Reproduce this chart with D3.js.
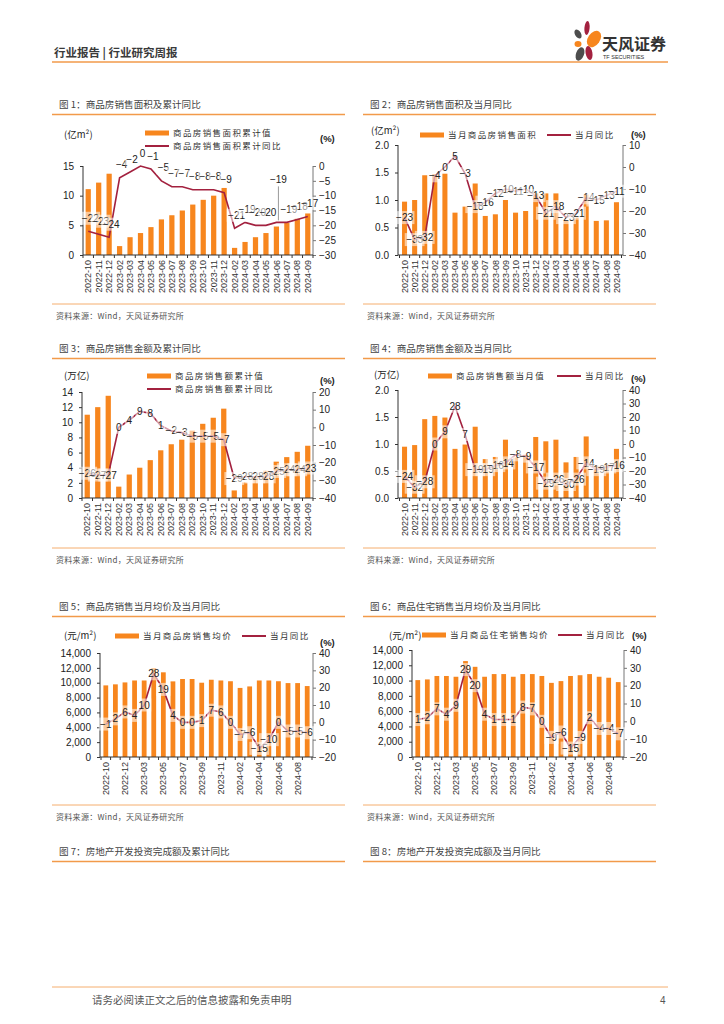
<!DOCTYPE html>
<html>
<head>
<meta charset="utf-8">
<script src="https://cdnjs.cloudflare.com/ajax/libs/d3/7.8.5/d3.min.js"></script>
<style>
body { margin: 0; background: #fff; }
svg { display: block; }
</style>
</head>
<body>
<div id="page"></div>
<script>
// categories (Jan+Feb reported together)
var cats = ["2022-10","2022-11","2022-12","2023-02","2023-03","2023-04","2023-05","2023-06","2023-07","2023-08","2023-09","2023-10","2023-11","2023-12","2024-02","2024-03","2024-04","2024-05","2024-06","2024-07","2024-08","2024-09"];

// fig 1: cumulative area (亿m²) and cumulative yoy (%)
var areaCum = [11.1, 12.2, 13.7, 1.5, 3.0, 3.7, 4.7, 6.0, 6.7, 7.5, 8.5, 9.3, 10.0, 11.3, 1.2, 2.2, 3.0, 3.7, 4.8, 5.4, 6.1, 7.0];
var areaCumYoy = [-22, -23, -24, -4, -2, 0, -1, -5, -7, -7, -8, -8, -8, -9, -21, -19, -20, -20, -19, -19, -18, -17];

// fig 2: monthly area and monthly yoy
var areaMon = [0.97, 1.00, 1.45, 1.47, 1.48, 0.77, 0.88, 1.30, 0.71, 0.74, 1.00, 0.77, 0.80, 1.12, 1.12, 1.12, 0.62, 0.68, 1.10, 0.62, 0.63, 0.96];
var areaMonYoy = [-23, -33, -32, -4, 0, 5, -3, -18, -16, -12, -10, -11, -10, -13, -21, -18, -23, -21, -14, -15, -13, -11];

// fig 3: cumulative sales (万亿) and cumulative yoy
var salesCum = [11.0, 12.0, 13.5, 1.5, 3.1, 4.0, 5.0, 6.3, 7.1, 7.7, 8.9, 9.8, 10.6, 11.8, 1.0, 2.1, 2.8, 3.6, 4.8, 5.4, 6.1, 6.9];
var salesCumYoy = [-26, -27, -27, 0, 4, 9, 8, 1, -2, -3, -5, -5, -5, -7, -29, -28, -28, -28, -25, -24, -24, -23];

// fig 4: monthly sales and monthly yoy
var salesMon = [0.95, 0.98, 1.46, 1.52, 1.49, 0.91, 0.99, 1.32, 0.72, 0.76, 1.08, 0.75, 0.80, 1.13, 1.05, 1.08, 0.66, 0.76, 1.14, 0.60, 0.62, 0.91];
var salesMonYoy = [-24, -32, -28, 0, 9, 28, 7, -19, -19, -16, -14, -8, -9, -17, -29, -26, -30, -26, -14, -19, -17, -16];

// fig 5: monthly average price (元/m²) and yoy
var priceAll = [9640, 9780, 10040, 10300, 10300, 11970, 11400, 10180, 10500, 10500, 10000, 10400, 10300, 10200, 9300, 9500, 10300, 10300, 10200, 9950, 9950, 9550];
var priceAllYoy = [-1, 2, 6, 4, 10, 28, 19, 4, 0, 0, 1, 7, 6, 0, -7, -6, -15, -10, 0, -5, -5, -6];

// fig 6: monthly residential average price and yoy
var priceRes = [10060, 10150, 10600, 10600, 10500, 12550, 11800, 10500, 10850, 10850, 10500, 10850, 10850, 10600, 9700, 9930, 10600, 10700, 10850, 10500, 10370, 9800];
var priceResYoy = [1, 2, 7, 4, 9, 29, 20, 4, 1, 1, 1, 8, 7, 0, -9, -6, -15, -9, 2, -4, -4, -7];

var titles = ["图 1：商品房销售面积及累计同比", "图 2：商品房销售面积及当月同比",
              "图 3：商品房销售金额及累计同比", "图 4：商品房销售金额及当月同比",
              "图 5：商品房销售当月均价及当月同比", "图 6：商品住宅销售当月均价及当月同比",
              "图 7：房地产开发投资完成额及累计同比", "图 8：房地产开发投资完成额及当月同比"];
var source = "资料来源：Wind，天风证券研究所";

var orange = "#F7861E", maroon = "#A3213F", lineOrange = "#F29A4A";
var cjk = "'Noto Sans CJK SC', sans-serif", latin = "'Liberation Sans', Arial, sans-serif";

var svg = d3.select("#page").append("svg")
    .attr("width", 724)
    .attr("height", 1024);

// ---------- page header ----------
svg.append("text")
    .attr("x", 54).attr("y", 57)
    .style("font-family", cjk).style("font-size", "11.5px").style("font-weight", "bold")
    .style("fill", "#3a3a3a")
    .text("行业报告 | 行业研究周报");

svg.append("line")
    .attr("x1", 52).attr("x2", 668).attr("y1", 62).attr("y2", 62)
    .style("stroke", lineOrange).style("stroke-width", 1.6);

// logo petals
var logo = svg.append("g").attr("transform", "translate(586,43)");
var petals = [
    [-8, -9, 3, 5, -30, "#4d4d4d"],
    [1, -15, 2.6, 7, 5, maroon],
    [8, -4, 6, 9, 35, orange],
    [-8, 1, 3.5, 3, 0, orange],
    [-6, 11, 4, 7, 20, "#4d4d4d"],
    [3, 10, 3.4, 7, -10, maroon]
];
petals.forEach(function(p) {
    logo.append("ellipse")
        .attr("cx", p[0]).attr("cy", p[1]).attr("rx", p[2]).attr("ry", p[3])
        .attr("transform", "rotate(" + p[4] + " " + p[0] + " " + p[1] + ")")
        .style("fill", p[5]);
});
svg.append("text")
    .attr("x", 602).attr("y", 50)
    .style("font-family", cjk).style("font-size", "16px").style("font-weight", "bold")
    .style("fill", "#333").text("天风证券");
svg.append("text")
    .attr("x", 603).attr("y", 59)
    .style("font-family", latin).style("font-size", "5.5px")
    .style("fill", "#333").text("TF SECURITIES");

// ---------- section titles and sources ----------
function sectionTitle(x, y, txt) {
    svg.append("text")
        .attr("x", x + 7).attr("y", y + 4)
        .style("font-family", cjk).style("font-size", "9.6px")
        .style("fill", "#444")
        .text(txt);
    svg.append("line")
        .attr("x1", x).attr("x2", x + 293).attr("y1", y + 10.5).attr("y2", y + 10.5)
        .style("stroke", lineOrange).style("stroke-width", 1.3);
}
function sourceNote(x, y) {
    svg.append("line")
        .attr("x1", x).attr("x2", x + 293).attr("y1", y - 12).attr("y2", y - 12)
        .style("stroke", lineOrange).style("stroke-width", 0.8);
    svg.append("text")
        .attr("x", x + 4).attr("y", y + 3)
        .style("font-family", cjk).style("font-size", "8px").style("letter-spacing", "0.3px")
        .style("fill", "#555")
        .text(source);
}

var colX = [52, 363];
var titleY = [104, 348, 606, 851];
var sourceY = [316, 560, 817];
titles.forEach(function(t, i) {
    sectionTitle(colX[i % 2], titleY[Math.floor(i / 2)], t);
});
sourceY.forEach(function(y) {
    sourceNote(colX[0], y);
    sourceNote(colX[1], y);
});

// ---------- combo chart ----------
function comboChart(p) {
    var g = svg.append("g");
    var x = d3.scaleBand().domain(cats).range([p.x0 + p.pad, p.x1 - p.pad]);
    var bw = x.bandwidth();
    var yL = d3.scaleLinear().domain(p.leftDomain).range([p.bottom, p.top]);
    var yR = d3.scaleLinear().domain(p.rightDomain).range([p.bottom, p.top]);

    // bars
    g.selectAll(".bar").data(p.bars).enter().append("rect")
        .attr("x", function(d, i) { return x(cats[i]) + bw * 0.25; })
        .attr("width", bw * 0.5)
        .attr("y", function(d) { return yL(d); })
        .attr("height", function(d) { return p.bottom - yL(d); })
        .style("fill", orange);

    // left axis
    var axL = g.append("g").attr("transform", "translate(" + p.x0 + ",0)")
        .call(d3.axisLeft(yL).tickValues(p.leftTicks).tickFormat(p.leftFmt)
            .tickSize(3).tickSizeOuter(0).tickPadding(6));
    axL.select(".domain").attr("d", "M0," + p.top + "V" + p.bottom).style("stroke", "#333");
    axL.selectAll(".tick line").style("stroke", "#333");
    axL.selectAll("text").style("font-family", latin).style("font-size", "10px").style("fill", "#222");

    // right axis
    var axR = g.append("g").attr("transform", "translate(" + p.x1 + ",0)")
        .call(d3.axisRight(yR).tickValues(p.rightTicks).tickFormat(function(d) { return d < 0 ? "\u2212" + (-d) : d; })
            .tickSize(3).tickSizeOuter(0).tickPadding(3));
    axR.select(".domain").attr("d", "M0," + p.top + "V" + p.bottom).style("stroke", "#777");
    axR.selectAll(".tick line").style("stroke", "#777");
    axR.selectAll("text").style("font-family", latin).style("font-size", "10px").style("fill", "#222");

    // bottom axis with boundary ticks and rotated dates
    g.append("line")
        .attr("x1", p.x0).attr("x2", p.x1).attr("y1", p.bottom).attr("y2", p.bottom)
        .style("stroke", "#333");
    d3.range(cats.length + 1).forEach(function(i) {
        var xx = x.range()[0] + i * x.step();
        g.append("line")
            .attr("x1", xx).attr("x2", xx).attr("y1", p.bottom).attr("y2", p.bottom + 3)
            .style("stroke", "#333");
    });
    var axB = g.append("g").attr("transform", "translate(0," + p.bottom + ")")
        .call(d3.axisBottom(x).tickSize(0)
            .tickValues(cats.filter(function(c, i) { return i % p.every === 0; })));
    axB.select(".domain").remove();
    axB.selectAll("text")
        .attr("transform", "rotate(-90)")
        .attr("text-anchor", "end")
        .attr("x", -5).attr("y", 0).attr("dy", "0.35em")
        .style("font-family", latin).style("font-size", "9px").style("fill", "#333");

    // yoy line
    var line = d3.line()
        .x(function(d, i) { return x(cats[i]) + bw / 2; })
        .y(function(d) { return yR(d); });
    g.append("path").datum(p.line)
        .attr("d", line)
        .style("fill", "none").style("stroke", maroon).style("stroke-width", 1.6);

    // data labels on translucent boxes
    p.line.forEach(function(v, i) {
        var cx = x(cats[i]) + bw / 2 + p.labelDx;
        var lift = (p.lift && p.lift[i]) || 0;
        var cy = yR(v) + p.labelDy - lift;
        var s = v < 0 ? "\u2212" + (-v) : String(v);
        var w = s.length * 5.6 + 3;
        if (lift) {
            g.append("line")
                .attr("x1", cx).attr("x2", cx).attr("y1", cy + 7).attr("y2", yR(v) - 2)
                .style("stroke", "#999").style("stroke-width", 1);
        }
        g.append("rect")
            .attr("x", cx - w / 2).attr("y", cy - 6.5).attr("width", w).attr("height", 13)
            .style("fill", "#fff").style("opacity", 0.55);
        g.append("text")
            .attr("x", cx).attr("y", cy + 3.6)
            .attr("text-anchor", "middle")
            .style("font-family", latin).style("font-size", "10px").style("fill", "#222")
            .text(s);
    });

    // units
    g.append("text").attr("x", p.unitL[0]).attr("y", p.unitL[1] + 3.5)
        .style("font-family", cjk).style("font-size", "9.5px").style("fill", "#222")
        .text(p.unitText);
    g.append("text").attr("x", p.unitR[0]).attr("y", p.unitR[1] + 3.5)
        .style("font-family", latin).style("font-size", "9.5px").style("font-weight", "bold")
        .style("fill", "#222").text("(%)");

    // legend
    var lg = p.legend;
    g.append("rect").attr("x", lg.bar[0]).attr("y", lg.bar[1] - 2.5).attr("width", 24).attr("height", 5)
        .style("fill", orange);
    g.append("text").attr("x", lg.bar[0] + 28).attr("y", lg.bar[1] + 3)
        .style("font-family", cjk).style("font-size", "8.5px").style("letter-spacing", "1.4px")
        .style("fill", "#333").text(lg.barText);
    g.append("line").attr("x1", lg.line[0]).attr("x2", lg.line[0] + 24)
        .attr("y1", lg.line[1]).attr("y2", lg.line[1])
        .style("stroke", maroon).style("stroke-width", 2);
    g.append("text").attr("x", lg.line[0] + 28).attr("y", lg.line[1] + 3)
        .style("font-family", cjk).style("font-size", "8.5px").style("letter-spacing", "1.4px")
        .style("fill", "#333").text(lg.lineText);
}

var fmtInt = d3.format("d"), fmt1 = d3.format(".1f"), fmtK = d3.format(",");

comboChart({
    x0: 83, x1: 313, pad: 0, top: 166, bottom: 255,
    bars: areaCum, line: areaCumYoy,
    leftDomain: [0, 15], leftTicks: [0, 5, 10, 15], leftFmt: fmtInt,
    rightDomain: [-30, 0], rightTicks: d3.range(-30, 1, 5),
    labelDx: 2, labelDy: -13, lift: {18: 30}, every: 1,
    unitText: "(亿m²)", unitL: [64, 134], unitR: [320, 138],
    legend: { bar: [145, 133], barText: "商品房销售面积累计值", line: [145, 146], lineText: "商品房销售面积累计同比" }
});

comboChart({
    x0: 398, x1: 623, pad: 1.5, top: 145, bottom: 255,
    bars: areaMon, line: areaMonYoy,
    leftDomain: [0, 2], leftTicks: [0, 0.5, 1, 1.5, 2], leftFmt: fmt1,
    rightDomain: [-40, 10], rightTicks: d3.range(-40, 11, 10),
    labelDx: 0, labelDy: 0, every: 1,
    unitText: "(亿m²)", unitL: [371, 130], unitR: [631, 134],
    legend: { bar: [420, 135], barText: "当月商品房销售面积", line: [547, 135], lineText: "当月同比" }
});

comboChart({
    x0: 82, x1: 313, pad: 0, top: 392, bottom: 498,
    bars: salesCum, line: salesCumYoy,
    leftDomain: [0, 14], leftTicks: d3.range(0, 15, 2), leftFmt: fmtInt,
    rightDomain: [-40, 20], rightTicks: d3.range(-40, 21, 10),
    labelDx: 0, labelDy: 0, every: 1,
    unitText: "(万亿)", unitL: [64, 375], unitR: [320, 380],
    legend: { bar: [147, 376], barText: "商品房销售额累计值", line: [147, 389], lineText: "商品房销售额累计同比" }
});

comboChart({
    x0: 398, x1: 623, pad: 1.5, top: 390, bottom: 498,
    bars: salesMon, line: salesMonYoy,
    leftDomain: [0, 2], leftTicks: [0, 0.5, 1, 1.5, 2], leftFmt: fmt1,
    rightDomain: [-40, 40], rightTicks: d3.range(-40, 41, 10),
    labelDx: 0, labelDy: 0, every: 1,
    unitText: "(万亿)", unitL: [374, 374], unitR: [631, 378],
    legend: { bar: [428, 376], barText: "商品房销售额当月值", line: [557, 376], lineText: "当月同比" }
});

comboChart({
    x0: 100, x1: 313, pad: 1, top: 653, bottom: 757,
    bars: priceAll, line: priceAllYoy,
    leftDomain: [0, 14000], leftTicks: d3.range(0, 14001, 2000), leftFmt: fmtK,
    rightDomain: [-20, 40], rightTicks: d3.range(-20, 41, 10),
    labelDx: 0, labelDy: 0, every: 2,
    unitText: "(元/m²)", unitL: [64, 635], unitR: [320, 642],
    legend: { bar: [115, 636], barText: "当月商品房销售均价", line: [242, 636], lineText: "当月同比" }
});

comboChart({
    x0: 412, x1: 624, pad: 1, top: 650, bottom: 757,
    bars: priceRes, line: priceResYoy,
    leftDomain: [0, 14000], leftTicks: d3.range(0, 14001, 2000), leftFmt: fmtK,
    rightDomain: [-20, 40], rightTicks: d3.range(-20, 41, 10),
    labelDx: 0, labelDy: 0, every: 2,
    unitText: "(元/m²)", unitL: [389, 635], unitR: [632, 635],
    legend: { bar: [422, 635], barText: "当月商品住宅销售均价", line: [558, 635], lineText: "当月同比" }
});

// ---------- footer ----------
svg.append("line")
    .attr("x1", 52).attr("x2", 668).attr("y1", 987).attr("y2", 987)
    .style("stroke", lineOrange).style("stroke-width", 0.8);
svg.append("text")
    .attr("x", 92).attr("y", 1004)
    .style("font-family", cjk).style("font-size", "10.5px").style("fill", "#555")
    .text("请务必阅读正文之后的信息披露和免责申明");
svg.append("text")
    .attr("x", 660).attr("y", 1004)
    .style("font-family", latin).style("font-size", "10px").style("fill", "#555")
    .text("4");
</script>
</body>
</html>
